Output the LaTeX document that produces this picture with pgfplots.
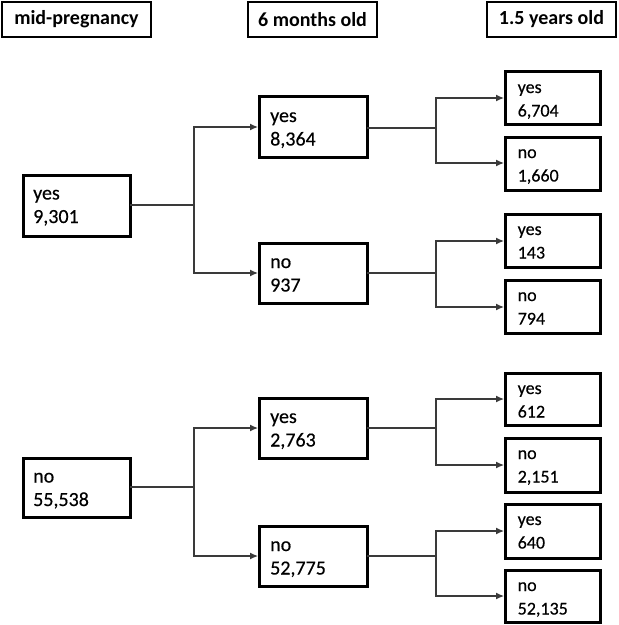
\documentclass[border=0pt]{standalone}
\usepackage{fontspec}
\setmainfont{Carlito}[UprightFeatures={FakeBold=0.4}]
\usepackage{pgfplots}
\pgfplotsset{compat=1.18}
\usetikzlibrary{arrows.meta}
\definecolor{conn}{HTML}{3A3A3A}

\newcommand{\bigf}{\fontsize{20bp}{24bp}\selectfont}
\newcommand{\smallf}{\fontsize{18bp}{21bp}\selectfont}

% box: x1 y1 x2 y2 {line1} {line2} {font} {first baseline} {left pad}
\newcommand{\tbox}[9]{%
  \addplot[black, line width=3bp, line cap=rect, line join=miter] coordinates {(#1,#2) (#3,#2) (#3,#4) (#1,#4) (#1,#2)};
  \node[anchor=base west, inner sep=0pt, font=#7] at (axis cs:#1+#9,#2+#8) {#5};
  \node[anchor=base west, inner sep=0pt, font=#7] at (axis cs:#1+#9,#2+#8+23.5) {#6};
}
% header box: x1 y1 x2 y2 {text}
\newcommand{\headbox}[5]{%
  \addplot[black, line width=2.5bp, line cap=rect, line join=miter] coordinates {(#1,#2) (#3,#2) (#3,#4) (#1,#4) (#1,#2)};
  \node[inner sep=0pt, font=\bigf\bfseries] at (axis cs:{(#1+#3)/2},{(#2+#4)/2}) {#5};
}
% fork: x0 y0 (source), xm (split), x1 (targets), ya, yb
\newcommand{\fork}[6]{%
  \addplot[conn, line width=1.2bp] coordinates {(#1,#2) (#3,#2)};
  \addplot[conn, line width=1.2bp, {Latex[length=8bp,width=7bp]}-{Latex[length=8bp,width=7bp]}] coordinates {(#4,#5) (#3,#5) (#3,#6) (#4,#6)};
}

\begin{document}
\begin{tikzpicture}
\begin{axis}[
  scale only axis, width=619bp, height=625bp,
  xmin=0, xmax=619, ymin=0, ymax=625, y dir=reverse,
  hide axis, clip=false]
\draw[draw=none] (rel axis cs:0,0) rectangle (rel axis cs:1,1);

\headbox{2}{2}{151}{37}{mid-pregnancy}
\headbox{248}{2}{377}{37}{6 months old}
\headbox{487}{2}{616}{37}{1.5 years old}

\tbox{23}{175}{130}{236}{yes}{9,301}{\bigf}{24.5}{10}
\tbox{23}{458}{130}{517}{no}{55,538}{\bigf}{24.5}{10}

\tbox{259}{97}{367}{157}{yes}{8,364}{\bigf}{25}{11}
\tbox{259}{243}{367}{303}{no}{937}{\bigf}{25}{11}
\tbox{259}{398}{367}{458}{yes}{2,763}{\bigf}{25}{11}
\tbox{259}{526}{367}{586}{no}{52,775}{\bigf}{25}{11}

\tbox{505}{72}{600}{124}{yes}{6,704}{\smallf}{21}{12.5}
\tbox{505}{137}{600}{190}{no}{1,660}{\smallf}{21}{12.5}
\tbox{505}{214}{600}{267}{yes}{143}{\smallf}{21}{12.5}
\tbox{505}{280}{600}{333}{no}{794}{\smallf}{21}{12.5}
\tbox{505}{373}{600}{425}{yes}{612}{\smallf}{21}{12.5}
\tbox{505}{438}{600}{492}{no}{2,151}{\smallf}{21}{12.5}
\tbox{505}{504}{600}{558}{yes}{640}{\smallf}{21}{12.5}
\tbox{505}{570}{600}{622}{no}{52,135}{\smallf}{21}{12.5}

\fork{130}{205}{194}{258}{127}{273}
\fork{130}{487}{194}{258}{428}{556}
\fork{367}{128}{436}{504}{98}{163}
\fork{367}{273}{436}{504}{241}{307}
\fork{367}{428}{436}{504}{399}{465}
\fork{367}{556}{436}{504}{531}{596}
\end{axis}
\end{tikzpicture}
\end{document}
